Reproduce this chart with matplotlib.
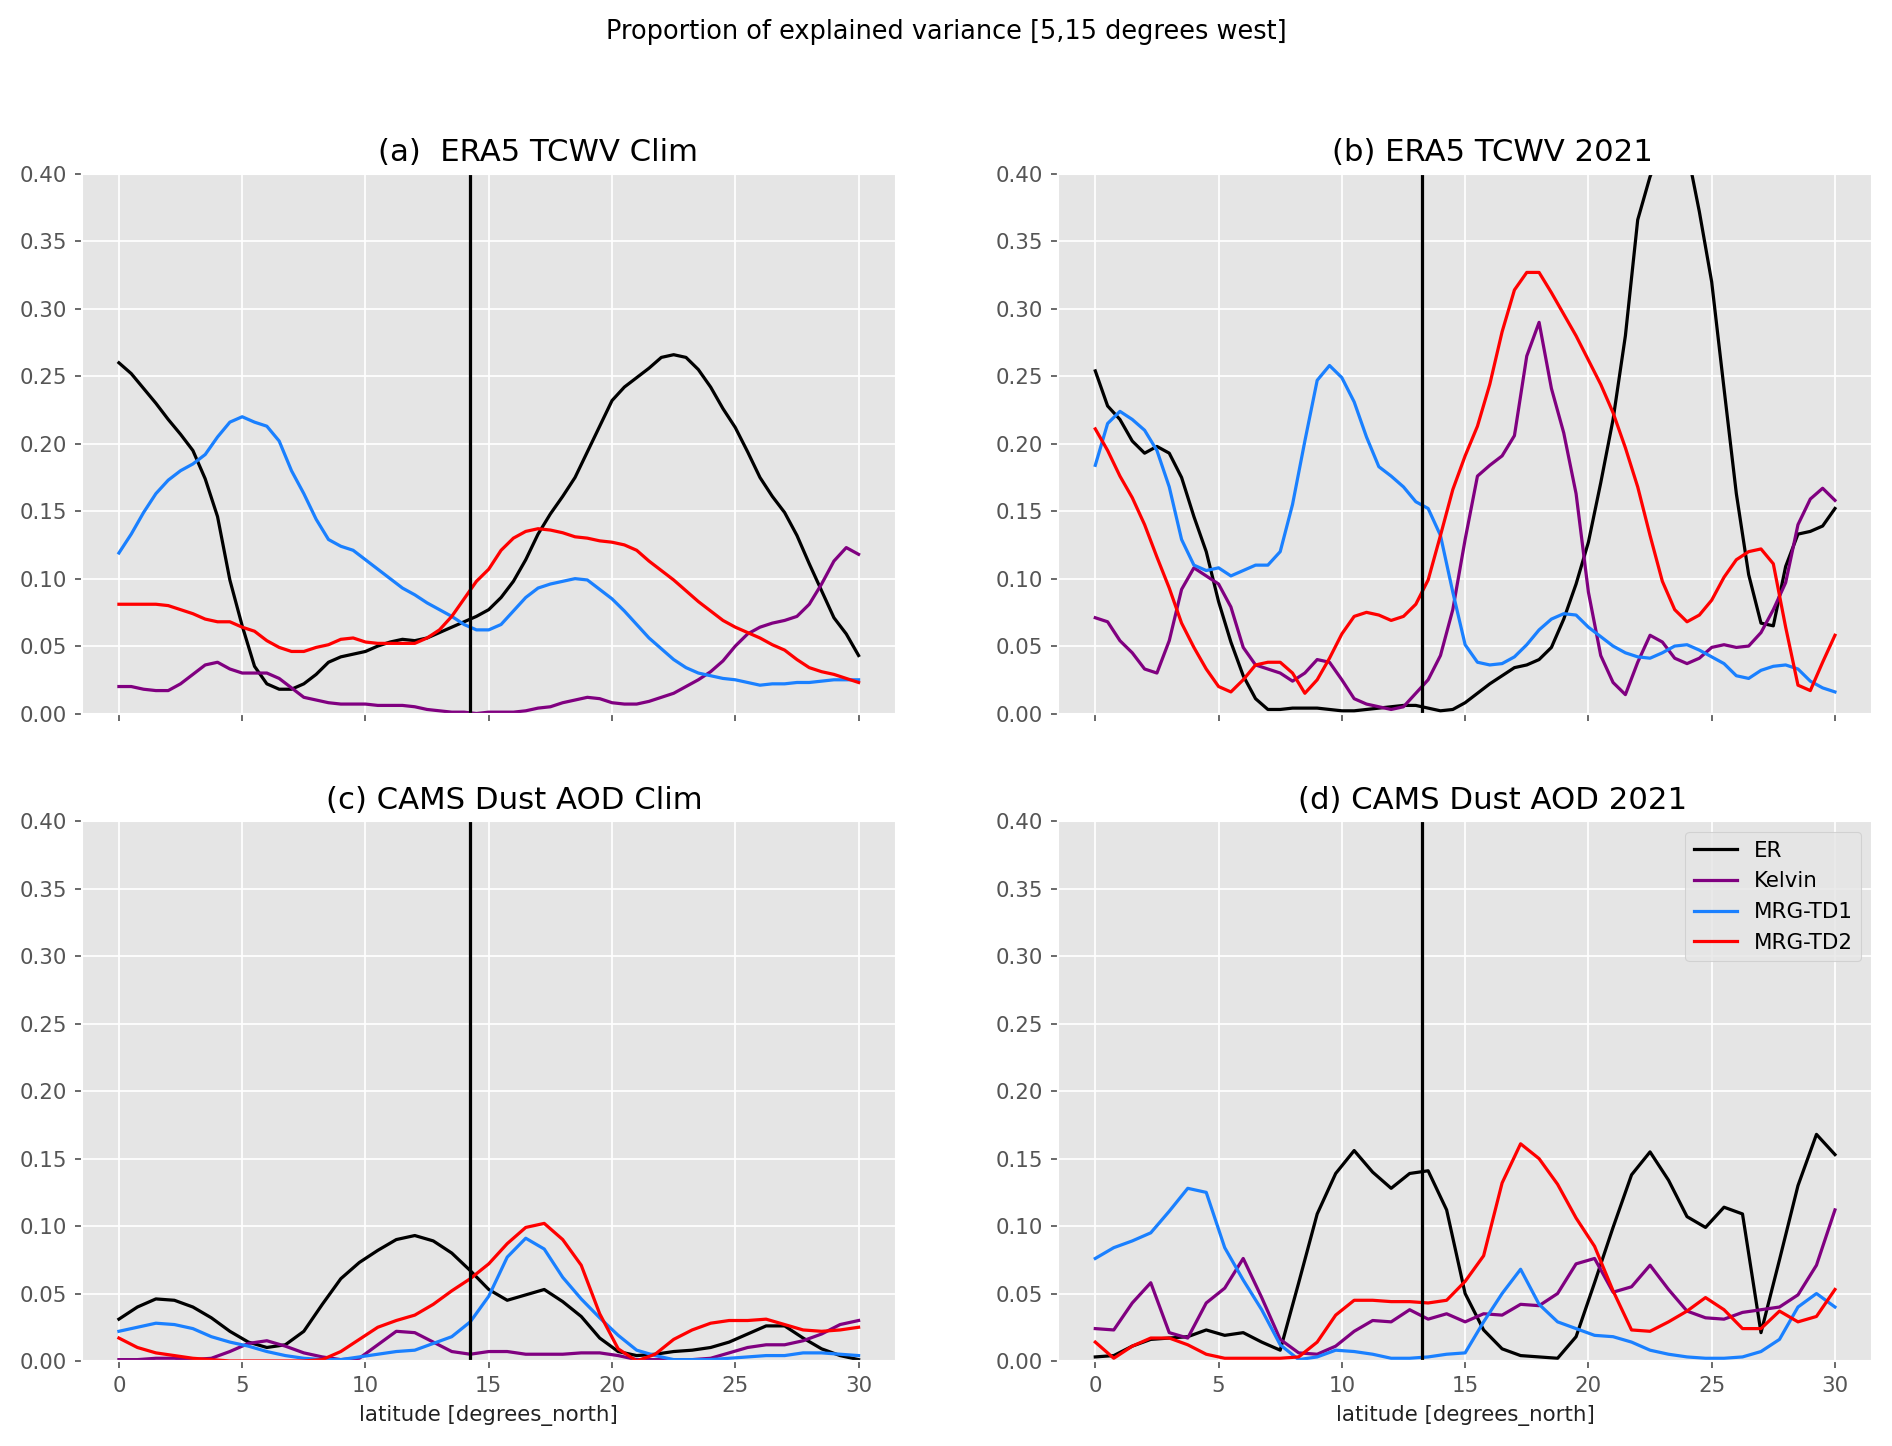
import numpy as np
import matplotlib
matplotlib.use("Agg")
import matplotlib.pyplot as plt

plt.style.use("ggplot")

# latitude grids (ERA5 every 0.5 deg, CAMS every 0.75 deg)
lat_era = np.linspace(0, 30, 61)
lat_cams = np.linspace(0, 30, 41)

# (a) ERA5 TCWV climatology
era_clim_er = [.260, .252, .241, .230, .218, .207, .195, .174, .146, .099, .065,
               .035, .022, .018, .018, .022, .029, .038, .042, .044, .046,
               .050, .053, .055, .054, .056, .060, .064, .068, .072, .077,
               .086, .098, .114, .133, .148, .161, .175, .194, .213, .232,
               .242, .249, .256, .264, .266, .264, .255, .242, .226, .212,
               .194, .175, .161, .149, .132, .111, .091, .071, .059, .043]
era_clim_kelvin = [.020, .020, .018, .017, .017, .022, .029, .036, .038, .033, .030,
                   .030, .030, .026, .019, .012, .010, .008, .007, .007, .007,
                   .006, .006, .006, .005, .003, .002, .001, .001, .000, .001,
                   .001, .001, .002, .004, .005, .008, .010, .012, .011, .008,
                   .007, .007, .009, .012, .015, .020, .025, .031, .039, .050,
                   .059, .064, .067, .069, .072, .081, .096, .113, .123, .118]
era_clim_td1 = [.119, .133, .149, .163, .173, .180, .185, .192, .205, .216, .220,
                .216, .213, .202, .180, .163, .144, .129, .124, .121, .114,
                .107, .100, .093, .088, .082, .077, .072, .066, .062, .062,
                .066, .076, .086, .093, .096, .098, .100, .099, .092, .085,
                .076, .066, .056, .048, .040, .034, .030, .028, .026, .025,
                .023, .021, .022, .022, .023, .023, .024, .025, .025, .025]
era_clim_td2 = [.081, .081, .081, .081, .080, .077, .074, .070, .068, .068, .064,
                .061, .054, .049, .046, .046, .049, .051, .055, .056, .053,
                .052, .052, .052, .052, .056, .062, .072, .085, .098, .107,
                .121, .130, .135, .137, .136, .134, .131, .130, .128, .127,
                .125, .121, .113, .106, .099, .091, .083, .076, .069, .064,
                .060, .056, .051, .047, .040, .034, .031, .029, .026, .023]

# (b) ERA5 TCWV 2021
era_21_er = [.254, .228, .218, .202, .193, .198, .193, .175, .146, .120, .083,
             .053, .028, .011, .003, .003, .004, .004, .004, .003, .002,
             .002, .003, .004, .005, .006, .006, .004, .002, .003, .008,
             .015, .022, .028, .034, .036, .040, .049, .070, .096, .127,
             .171, .218, .280, .366, .398, .420, .428, .418, .372, .320,
             .241, .163, .103, .067, .065, .109, .133, .135, .139, .152]
era_21_kelvin = [.071, .068, .054, .045, .033, .030, .054, .092, .108, .102, .096,
                 .079, .049, .036, .033, .030, .024, .030, .040, .038, .025,
                 .011, .007, .005, .003, .005, .015, .025, .043, .077, .129,
                 .176, .184, .191, .206, .265, .290, .241, .208, .163, .090,
                 .043, .023, .014, .038, .058, .053, .041, .037, .041, .049,
                 .051, .049, .050, .060, .077, .097, .140, .159, .167, .158]
era_21_td1 = [.184, .215, .224, .218, .210, .195, .168, .129, .110, .106, .108,
              .102, .106, .110, .110, .120, .155, .202, .247, .258, .249,
              .231, .205, .183, .176, .168, .157, .152, .132, .090, .051,
              .038, .036, .037, .042, .051, .062, .070, .074, .073, .064,
              .057, .050, .045, .042, .041, .045, .050, .051, .047, .042,
              .037, .028, .026, .032, .035, .036, .033, .024, .019, .016]
era_21_td2 = [.211, .195, .176, .160, .140, .116, .093, .067, .049, .033, .020,
              .016, .025, .036, .038, .038, .030, .015, .025, .041, .059,
              .072, .075, .073, .069, .072, .081, .099, .132, .166, .191,
              .213, .244, .283, .314, .327, .327, .312, .296, .280, .262,
              .244, .223, .197, .168, .132, .098, .077, .068, .073, .084,
              .101, .114, .120, .122, .111, .064, .021, .017, .038, .058]

# (c) CAMS dust AOD climatology
cams_clim_er = [.031, .040, .046, .045, .040, .032, .022, .014, .010, .012,
                .022, .042, .061, .073, .082, .090, .093, .089, .080, .067,
                .053, .045, .049, .053, .044, .033, .017, .007, .004, .005,
                .007, .008, .010, .014, .020, .026, .026, .017, .009, .004, .001]
cams_clim_kelvin = [.001, .001, .002, .002, .001, .002, .007, .013, .015, .011,
                    .006, .003, .001, .002, .012, .022, .021, .014, .007, .005,
                    .007, .007, .005, .005, .005, .006, .006, .004, .001, .001,
                    .001, .001, .002, .006, .010, .012, .012, .015, .020, .027, .030]
cams_clim_td1 = [.022, .025, .028, .027, .024, .018, .014, .011, .007, .004,
                 .002, .001, .001, .003, .005, .007, .008, .013, .018, .029,
                 .048, .077, .091, .083, .062, .046, .032, .019, .008, .004,
                 .001, .001, .001, .002, .003, .004, .004, .006, .006, .005, .004]
cams_clim_td2 = [.017, .010, .006, .004, .002, .001, .000, .000, .000, .000,
                 .000, .001, .007, .016, .025, .030, .034, .042, .052, .061,
                 .072, .087, .099, .102, .090, .071, .035, .009, .000, .005,
                 .016, .023, .028, .030, .030, .031, .027, .023, .022, .023, .025]

# (d) CAMS dust AOD 2021
cams_21_er = [.003, .004, .011, .016, .017, .018, .023, .019, .021, .014,
              .008, .058, .109, .139, .156, .140, .128, .139, .141, .112,
              .050, .023, .009, .004, .003, .002, .018, .058, .099, .138,
              .155, .134, .107, .099, .114, .109, .021, .075, .130, .168, .153]
cams_21_kelvin = [.024, .023, .043, .058, .021, .017, .043, .054, .076, .047,
                  .016, .006, .005, .011, .022, .030, .029, .038, .031, .035,
                  .029, .035, .034, .042, .041, .050, .072, .076, .051, .055,
                  .071, .053, .037, .032, .031, .036, .038, .040, .049, .071, .112]
cams_21_td1 = [.076, .084, .089, .095, .111, .128, .125, .084, .060, .038,
               .012, .001, .003, .008, .007, .005, .002, .002, .003, .005,
               .006, .029, .050, .068, .042, .029, .024, .019, .018, .014,
               .008, .005, .003, .002, .002, .003, .007, .016, .040, .050, .040]
cams_21_td2 = [.014, .002, .011, .017, .017, .012, .005, .002, .002, .002,
               .002, .003, .014, .034, .045, .045, .044, .044, .043, .045,
               .059, .078, .132, .161, .150, .131, .106, .085, .052, .023,
               .022, .029, .037, .047, .038, .024, .024, .037, .029, .033, .053]

wave_names = ["ER", "Kelvin", "MRG-TD1", "MRG-TD2"]
wave_colors = ["black", "purple", "#1a80ff", "red"]

titles = ["(a)  ERA5 TCWV Clim", "(b) ERA5 TCWV 2021",
          "(c) CAMS Dust AOD Clim", "(d) CAMS Dust AOD 2021"]
title_x = [0.56, 0.533, 0.531, 0.534]
jet_lat = [14.25, 13.25, 14.25, 13.25]

panels = [
    (lat_era, [era_clim_er, era_clim_kelvin, era_clim_td1, era_clim_td2]),
    (lat_era, [era_21_er, era_21_kelvin, era_21_td1, era_21_td2]),
    (lat_cams, [cams_clim_er, cams_clim_kelvin, cams_clim_td1, cams_clim_td2]),
    (lat_cams, [cams_21_er, cams_21_kelvin, cams_21_td1, cams_21_td2]),
]

fig, axes = plt.subplots(2, 2, figsize=(1892 / 154, 1446 / 154), dpi=154, sharex=True)
fig.subplots_adjust(left=0.0433, right=0.9894, top=0.8797, bottom=0.0588,
                    wspace=0.2, hspace=0.2)

for i, ax in enumerate(axes.flat):
    lat, series = panels[i]
    for vals, name, col in zip(series, wave_names, wave_colors):
        ax.plot(lat, vals, color=col, lw=1.5, label=name)
    ax.axvline(jet_lat[i], color="black", lw=1.5)
    ax.set_ylim(0, 0.4)
    ax.set_yticks(np.arange(0, 0.41, 0.05))
    ax.yaxis.set_major_formatter(matplotlib.ticker.FormatStrFormatter("%.2f"))
    ax.set_xticks([0, 5, 10, 15, 20, 25, 30])
    ax.set_title(titles[i], fontsize=14.4, color="black", x=title_x[i])
    ax.tick_params(labelsize=10)
    if i >= 2:
        ax.set_xlabel("latitude [degrees_north]", fontsize=10, color="#222222")

axes[1, 1].legend(loc="upper right", fontsize=10)

fig.suptitle("Proportion of explained variance [5,15 degrees west]", fontsize=12, y=0.987)

fig.savefig("out.png", dpi=154)
